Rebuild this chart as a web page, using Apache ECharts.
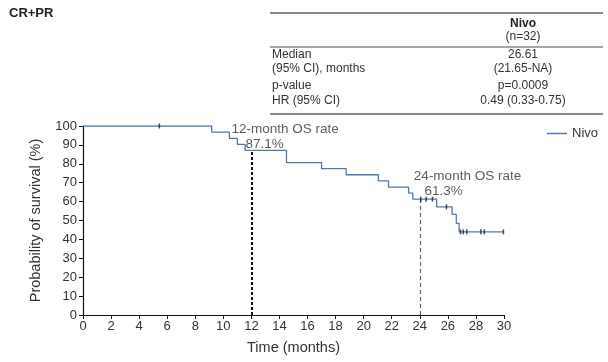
<!DOCTYPE html>
<html><head><meta charset="utf-8">
<script src="https://cdn.jsdelivr.net/npm/echarts@6/dist/echarts.min.js"></script>
<style>html,body{margin:0;padding:0;background:#fff}#c{width:608px;height:362px}</style>
</head><body><div id="c"></div>
<script>
// Kaplan-Meier step points (months, survival %)
const kmTimes  = [0, 9.17, 10.43, 11.0, 11.55, 14.5, 17.0, 18.75, 21.05, 21.77, 23.2, 23.5, 25.2, 26.3, 26.6, 26.8, 29.96];
const kmValues = [100, 96.8, 93.5, 90.3, 87.1, 80.6, 77.4, 74.2, 71.0, 67.7, 64.5, 61.3, 57.2, 53.2, 48.5, 44.0, 44.0];
// censor marks
const censorTimes  = [5.44, 24.07, 24.45, 24.9, 25.9, 26.9, 27.1, 27.35, 28.35, 28.6, 29.96];
const censorValues = [100, 61.3, 61.3, 61.3, 57.2, 44.0, 44.0, 44.0, 44.0, 44.0, 44.0];
const xTicks = [0,2,4,6,8,10,12,14,16,18,20,22,24,26,28,30];
const yTicks = [0,10,20,30,40,50,60,70,80,90,100];
const landmarks = [[12, 87.1], [24, 61.3]];
const annotTexts = [['12-month OS rate','87.1%'], ['24-month OS rate','61.3%']];
const tableRows = [['Median','26.61'],['(95% CI), months','(21.65-NA)'],['p-value','p=0.0009'],['HR (95% CI)','0.49 (0.33-0.75)']];

const chart = echarts.init(document.getElementById('c'));
const FONT = 'Liberation Sans, Arial, sans-serif';
const TXT = '#333';

const graphics = [
  {type:'text', left: 9, top: 7, style:{text:'CR+PR', font:'bold 13px '+FONT, fill:'#222'}},
  {type:'line', shape:{x1:270,y1:13,x2:603,y2:13}, style:{stroke:'#8a8a8a', lineWidth:2}},
  {type:'text', x:523, y:24, style:{text:'Nivo', font:'bold 12px '+FONT, fill:'#222', align:'center', verticalAlign:'middle'}},
  {type:'text', x:523, y:37, style:{text:'(n=32)', font:'12px '+FONT, fill:TXT, align:'center', verticalAlign:'middle'}},
  {type:'line', shape:{x1:270,y1:47,x2:603,y2:47}, style:{stroke:'#8a8a8a', lineWidth:1.5}},
  {type:'line', shape:{x1:270,y1:114,x2:603,y2:114}, style:{stroke:'#8a8a8a', lineWidth:2}}
];
const rowY = [55, 69, 86, 101];
tableRows.forEach((r,i)=>{
  graphics.push({type:'text', x:272, y:rowY[i], style:{text:r[0], font:'12px '+FONT, fill:TXT, align:'left', verticalAlign:'middle'}});
  graphics.push({type:'text', x:523, y:rowY[i], style:{text:r[1], font:'12px '+FONT, fill:TXT, align:'center', verticalAlign:'middle'}});
});

chart.setOption({
  animation:false,
  textStyle:{fontFamily:FONT},
  grid:{left:83, right:104, top:126, bottom:47, containLabel:false},
  legend:{right:5, top:122, data:[{name:'Nivo', icon:'rect'}], itemWidth:20, itemHeight:1.5, itemGap:4,
          textStyle:{fontSize:13, color:TXT, fontFamily:FONT}},
  xAxis:{type:'value', min:0, max:30, interval:2,
         name:'Time (months)', nameLocation:'middle', nameGap:25,
         nameTextStyle:{fontSize:14.5, color:TXT, fontFamily:FONT},
         axisLine:{lineStyle:{color:'#111', width:1.2}}, axisTick:{length:4, lineStyle:{color:'#111'}},
         axisLabel:{fontSize:13, color:TXT, margin:5, formatter:v=>xTicks.includes(v)?String(v):''},
         splitLine:{show:false}},
  yAxis:{type:'value', min:0, max:100, interval:10,
         name:'Probability of survival (%)', nameLocation:'middle', nameGap:40, nameRotate:90,
         nameTextStyle:{fontSize:14.5, color:TXT, fontFamily:FONT},
         axisLine:{show:true, lineStyle:{color:'#111', width:1.2}}, axisTick:{show:true, length:4, lineStyle:{color:'#111'}},
         axisLabel:{fontSize:13, color:TXT, margin:6, formatter:v=>yTicks.includes(v)?String(v):''},
         splitLine:{show:false}},
  graphic: graphics,
  series:[
    {name:'Nivo', type:'line', step:'end', showSymbol:false, data:kmTimes.map((t,i)=>[t,kmValues[i]]),
     lineStyle:{color:'#5079ae', width:1.3}, itemStyle:{color:'#5079ae'},
     markLine:{silent:true, symbol:'none', label:{show:false},
       data:[
         [{coord:[landmarks[0][0],0], lineStyle:{color:'#111', width:2, type:[3,2]}}, {coord:[landmarks[0][0],landmarks[0][1]]}],
         [{coord:[landmarks[1][0],0], lineStyle:{color:'#666', width:1.2, type:[4,3]}}, {coord:[landmarks[1][0],landmarks[1][1]]}]
       ]}},
    {name:'censor', type:'scatter', symbol:'rect', symbolSize:[1.5,5], itemStyle:{color:'#222'},
     data:censorTimes.map((t,i)=>[t,censorValues[i]]), z:5},
    {name:'annot', type:'scatter', symbolSize:0, silent:true, z:6,
     data:[
       {value:[landmarks[0][0]+2.4, 98.3], label:{formatter:annotTexts[0][0]}},
       {value:[landmarks[0][0]+0.95, 90.3], label:{formatter:annotTexts[0][1]}},
       {value:[landmarks[1][0]+3.4, 73.4], label:{formatter:annotTexts[1][0]}},
       {value:[landmarks[1][0]+1.7, 65.5], label:{formatter:annotTexts[1][1]}}
     ],
     label:{show:true, position:'inside', fontSize:13.5, color:TXT, fontFamily:FONT}}
  ]
});
</script></body></html>
